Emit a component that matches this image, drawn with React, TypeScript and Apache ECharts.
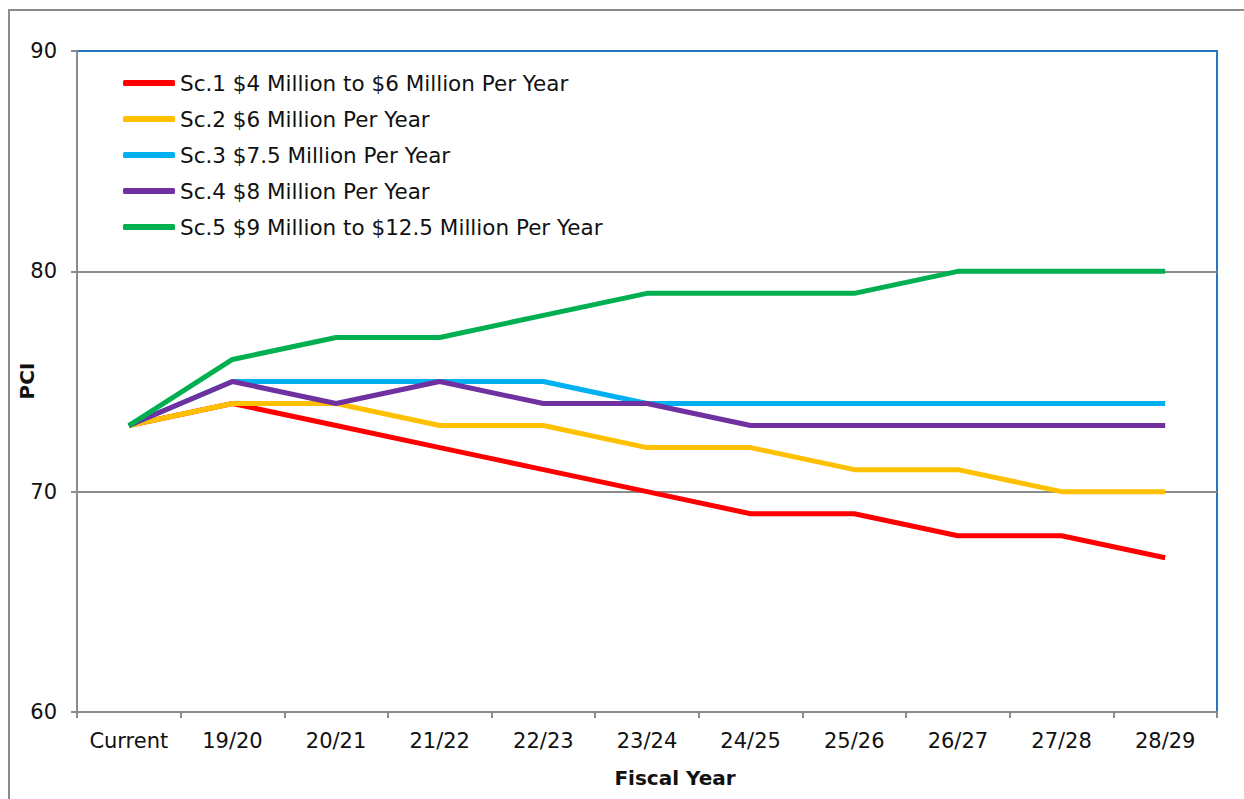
import React, { useEffect, useRef } from "react";
import * as echarts from "echarts";

const categories = ["Current", "19/20", "20/21", "21/22", "22/23", "23/24", "24/25", "25/26", "26/27", "27/28", "28/29"];
const seriesNames = [
  "Sc.1 $4 Million to $6 Million Per Year",
  "Sc.2 $6 Million Per Year",
  "Sc.3 $7.5 Million Per Year",
  "Sc.4 $8 Million Per Year",
  "Sc.5 $9 Million to $12.5 Million Per Year",
];
const sc1 = [73, 74, 73, 72, 71, 70, 69, 69, 68, 68, 67];
const sc2 = [73, 74, 74, 73, 73, 72, 72, 71, 71, 70, 70];
const sc3 = [73, 75, 75, 75, 75, 74, 74, 74, 74, 74, 74];
const sc4 = [73, 75, 74, 75, 74, 74, 73, 73, 73, 73, 73];
const sc5 = [73, 76, 77, 77, 78, 79, 79, 79, 80, 80, 80];
const colors = ["#ff0000", "#ffc000", "#00b0f0", "#7030a0", "#00b050"];

export default function App() {
  const ref = useRef<HTMLDivElement>(null);
  useEffect(() => {
    if (!ref.current) return;
    const chart = echarts.init(ref.current, undefined, { renderer: "svg" });
    const font = "DejaVu Sans";
    const data = [sc1, sc2, sc3, sc4, sc5];
    const gray = "#8c8c8c";
    const blue = "#2676c2";
    chart.setOption({
      animation: false,
      backgroundColor: "#ffffff",
      textStyle: { fontFamily: font },
      grid: {
        left: 77,
        right: 27,
        top: 51,
        bottom: 87,
        show: true,
        borderColor: blue,
        borderWidth: 2,
        backgroundColor: "transparent",
      },
      legend: {
        orient: "vertical",
        left: 118,
        top: 67,
        icon: "roundRect",
        itemWidth: 52,
        itemHeight: 6,
        itemGap: 14,
        textStyle: { fontFamily: font, fontSize: 21.5, lineHeight: 22, color: "#111" },
        data: seriesNames,
      },
      xAxis: {
        type: "category",
        data: categories,
        boundaryGap: true,
        axisLine: { lineStyle: { color: gray, width: 2 } },
        axisTick: { show: true, length: 6, lineStyle: { color: gray, width: 2 } },
        axisLabel: { fontFamily: font, fontSize: 21, color: "#111", margin: 18 },
      },
      yAxis: {
        type: "value",
        min: 60,
        max: 90,
        interval: 10,
        axisLine: { show: true, lineStyle: { color: gray, width: 2 } },
        axisTick: { show: true, length: 6, lineStyle: { color: gray, width: 2 } },
        axisLabel: { fontFamily: font, fontSize: 21, color: "#111", margin: 20 },
        splitLine: { show: true, lineStyle: { color: [gray, gray, gray, blue], width: 2 } },
      },
      graphic: [
        {
          type: "rect",
          shape: { x: 9, y: 10, width: 1300, height: 900 },
          style: { fill: "none", stroke: gray, lineWidth: 2 },
          silent: true,
        },
        {
          type: "text",
          x: 675,
          y: 778,
          style: {
            text: "Fiscal Year",
            font: `bold 20px ${font}`,
            fill: "#111",
            align: "center",
            verticalAlign: "middle",
          },
        },
        {
          type: "text",
          x: 27,
          y: 381,
          rotation: Math.PI / 2,
          style: {
            text: "PCI",
            font: `bold 20px ${font}`,
            fill: "#111",
            align: "center",
            verticalAlign: "middle",
          },
        },
      ],
      series: seriesNames.map((name, i) => ({
        name,
        type: "line",
        data: data[i],
        showSymbol: false,
        symbol: "none",
        color: colors[i],
        lineStyle: { color: colors[i], width: 5 },
        z: 3 + i,
      })),
    });
    return () => chart.dispose();
  }, []);
  return <div ref={ref} style={{ position: "absolute", left: 0, top: 0, width: 1244, height: 799 }} />;
}
